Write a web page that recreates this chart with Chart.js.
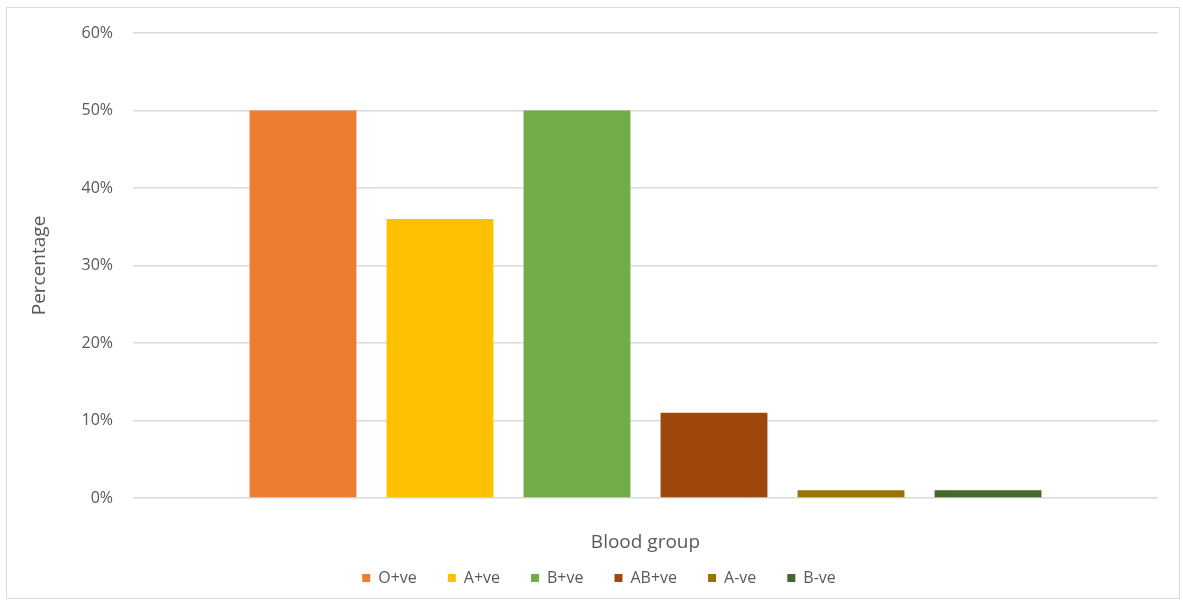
<!DOCTYPE html>
<html>
<head>
<meta charset="utf-8">
<script src="https://cdn.jsdelivr.net/npm/chart.js@4/dist/chart.umd.min.js"></script>
<style>
  html, body { margin: 0; padding: 0; background: #ffffff; }
  body { width: 1183px; height: 608px; position: relative; overflow: hidden; }
  #frame {
    position: absolute; left: 6px; top: 7px;
    width: 1174px; height: 592px;
    box-sizing: border-box; border: 1px solid #d9d9d9; background: #ffffff;
  }
  #chart { display: block; width: 1172px; height: 590px; }
</style>
</head>
<body>
<div id="frame"><canvas id="chart" width="1172" height="590"></canvas></div>
<script>
// Single unnamed category; each blood group is its own series
const categories = [''];
const bloodGroups = ['O+ve', 'A+ve', 'B+ve', 'AB+ve', 'A-ve', 'B-ve'];
const percentages = [50, 36, 50, 11, 1, 1];
const groupColors = ['#ED7D31', '#FFC000', '#70AD47', '#9E480E', '#997300', '#43682B'];
const yTickValues = [0, 10, 20, 30, 40, 50, 60];

const textColor = '#595959';
const fontFamily = '"Open Sans", "Liberation Sans", sans-serif';

const datasets = bloodGroups.map((name, i) => ({
  label: name,
  data: [percentages[i]],
  backgroundColor: groupColors[i],
  borderWidth: 0,
  categoryPercentage: 0.802,
  barPercentage: 0.78
}));

new Chart(document.getElementById('chart'), {
  type: 'bar',
  data: { labels: categories, datasets: datasets },
  options: {
    responsive: false,
    animation: false,
    devicePixelRatio: 1,
    layout: { padding: { top: 25, right: 21, bottom: 2, left: 33 } },
    plugins: {
      tooltip: { enabled: false },
      legend: {
        position: 'bottom',
        labels: {
          boxWidth: 8,
          boxHeight: 8,
          padding: 31,
          color: textColor,
          font: { family: fontFamily, size: 16 }
        }
      }
    },
    scales: {
      x: {
        grid: { display: false, drawTicks: false },
        border: { display: false },
        ticks: { display: false },
        title: {
          display: true,
          text: 'Blood group',
          color: textColor,
          font: { family: fontFamily, size: 19 },
          padding: { top: 0, bottom: -15 }
        },
        afterFit: (scale) => { scale.height = 41; }
      },
      y: {
        min: 0,
        max: 60,
        afterBuildTicks: (scale) => { scale.ticks = yTickValues.map(v => ({ value: v })); },
        grid: { color: '#d9d9d9', lineWidth: 1.5, drawTicks: false },
        border: { display: false },
        ticks: {
          padding: 20,
          color: textColor,
          font: { family: fontFamily, size: 16 },
          callback: (v) => v + '%'
        },
        title: {
          display: true,
          text: 'Percentage',
          color: textColor,
          font: { family: fontFamily, size: 19 },
          padding: { top: -12, bottom: 0 }
        },
        afterFit: (scale) => {
          scale.width = 93;
          scale.paddingTop = 10;
          scale.paddingBottom = 10;
        }
      }
    }
  }
});
</script>
</body>
</html>
